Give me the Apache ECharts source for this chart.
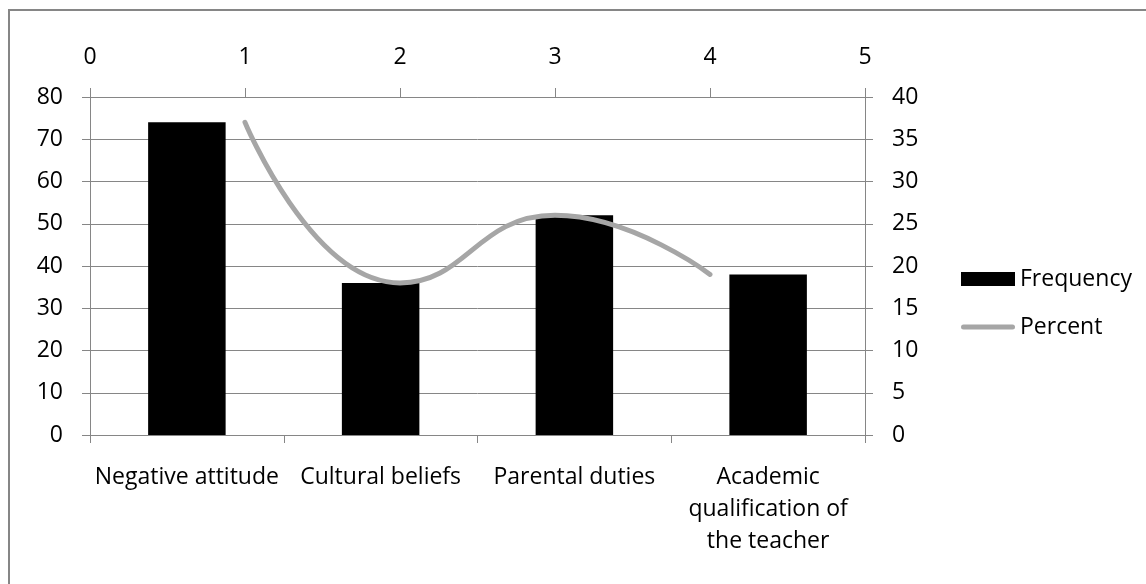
<!DOCTYPE html>
<html>
<head>
<meta charset="utf-8">
<script src="https://cdn.jsdelivr.net/npm/echarts@6/dist/echarts.min.js"></script>
<style>
html,body{margin:0;padding:0;background:#fff;}
#chart{width:1146px;height:584px;}
</style>
</head>
<body>
<div id="chart"></div>
<script>
const categories = ['Negative attitude', 'Cultural beliefs', 'Parental duties', 'Academic\nqualification of\nthe teacher'];
const frequency = [74, 36, 52, 38];
const percentX = [1, 2, 3, 4];
const percent = [37, 18, 26, 19];
const topTicks = [0, 1, 2, 3, 4, 5];

const FONT = '"Open Sans"';
const GRAY = '#868686';
const LINE = '#A6A6A6';
const chart = echarts.init(document.getElementById('chart'), null, {renderer: 'canvas'});
const txt = {fontFamily: FONT, fontSize: 23, color: '#000'};

chart.setOption({
  animation: false,
  backgroundColor: '#fff',
  graphic: [{
    type: 'rect',
    shape: {x: 9, y: 10, width: 1300, height: 700},
    style: {fill: 'none', stroke: GRAY, lineWidth: 2},
    silent: true, z: -1
  }],
  grid: {left: 90, right: 281, top: 97, bottom: 149, containLabel: false},
  legend: {
    orient: 'vertical',
    left: 956, top: 261,
    itemWidth: 54, itemHeight: 14,
    itemGap: 22,
    textStyle: Object.assign({}, txt, {lineHeight: 26}),
    data: [
      {name: 'Frequency', icon: 'rect'},
      {name: 'Percent', icon: 'path://M2.5,0 H51.5 A2.5,2.5 0 0 1 51.5,5 H2.5 A2.5,2.5 0 0 1 2.5,0 Z', itemStyle: {color: LINE, borderWidth: 0}}
    ]
  },
  xAxis: [{
    type: 'category',
    data: categories,
    position: 'bottom',
    axisLine: {show: true, onZero: false, lineStyle: {color: GRAY, width: 1}},
    axisTick: {show: true, length: 8, lineStyle: {color: GRAY}},
    axisLabel: Object.assign({}, txt, {interval: 0, margin: 26, lineHeight: 32, align: 'center'}),
    splitLine: {show: false}
  }, {
    type: 'value',
    position: 'top',
    min: topTicks[0], max: topTicks[topTicks.length - 1], interval: 1,
    axisLine: {show: true, onZero: false, lineStyle: {color: GRAY, width: 1}},
    axisTick: {show: true, length: 9, lineStyle: {color: GRAY}},
    axisLabel: Object.assign({}, txt, {margin: 28}),
    splitLine: {show: false}
  }],
  yAxis: [{
    type: 'value',
    position: 'left',
    min: 0, max: 80, interval: 10,
    axisLine: {show: true, onZero: false, lineStyle: {color: GRAY, width: 1}},
    axisTick: {show: true, length: 8, lineStyle: {color: GRAY}},
    axisLabel: Object.assign({}, txt, {margin: 27}),
    splitLine: {show: true, lineStyle: {color: GRAY, width: 1}}
  }, {
    type: 'value',
    position: 'right',
    min: 0, max: 40, interval: 5,
    axisLine: {show: true, onZero: false, lineStyle: {color: GRAY, width: 1}},
    axisTick: {show: true, length: 8, lineStyle: {color: GRAY}},
    axisLabel: Object.assign({}, txt, {margin: 27}),
    splitLine: {show: false}
  }],
  series: [{
    name: 'Frequency',
    type: 'bar',
    xAxisIndex: 0, yAxisIndex: 0,
    data: frequency,
    barWidth: '40%',
    itemStyle: {color: '#000'}
  }, {
    name: 'Percent',
    type: 'line',
    xAxisIndex: 1, yAxisIndex: 1,
    data: percentX.map((x, i) => [x, percent[i]]),
    smooth: 0.5,
    symbol: 'none',
    lineStyle: {color: LINE, width: 5, cap: 'round'},
    itemStyle: {color: LINE}
  }]
});
</script>
</body>
</html>
